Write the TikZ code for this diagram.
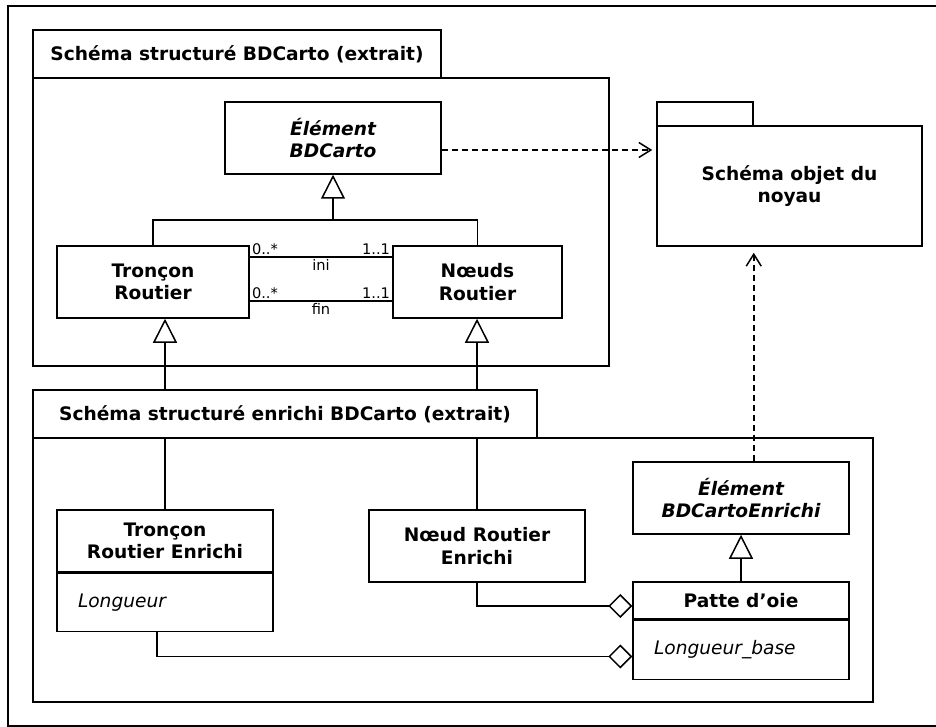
\documentclass[tikz,border=0pt]{standalone}
\usepackage{fontspec}
\setmainfont{DejaVu Sans}
\usetikzlibrary{arrows.meta, positioning}

\newcommand{\namefont}{\fontsize{18.6}{22.3}\selectfont\bfseries}
\newcommand{\attrfont}{\fontsize{18.6}{22.3}\selectfont\itshape}
\newcommand{\rolefont}{\fontsize{14.6}{17}\selectfont}

\tikzset{
    box/.style={draw, fill=white, line width=1.5pt, inner sep=0pt},
    cls/.style={box, align=center, font=\namefont},
    attr/.style={box, align=left, font=\attrfont, text width=174pt, inner xsep=21pt, inner ysep=0pt},
    pkgtab/.style={box, font=\namefont},
    gen/.style={line width=1.5pt, -{Triangle[fill=white, length=24pt, width=24pt]}},
    dep/.style={line width=1.5pt, dash pattern=on 6pt off 4pt, -{Straight Barb[length=12pt, width=15pt]}},
    agg/.style={line width=1.5pt, -{Diamond[fill=white, length=24pt, width=24pt]}},
    role/.style={font=\rolefont, inner sep=1.5pt}
}

\begin{document}
\begin{tikzpicture}[x=1pt, y=-1pt]
    \useasboundingbox (0,0) rectangle (936,727);

    % Frame
    \draw[line width=1.5pt] (8,6) rectangle (950,726);

    % Package BDCarto
    \node[box, minimum width=576pt, minimum height=288pt] (p1) at (321,222) {};
    \node[pkgtab, minimum width=408pt, minimum height=48pt] (p1tab) at (237,54) {Schéma structuré BDCarto (extrait)};

    % Classes BDCarto
    \node[cls, minimum width=216pt, minimum height=72pt] (elem) at (333,138) {\itshape Élément\\\itshape BDCarto};
    \node[cls, minimum width=192pt, minimum height=72pt] (tr) at (153,282) {Tronçon\\Routier};
    \node[cls, minimum width=169pt, minimum height=72pt] (nr) at (477.5,282) {Nœuds\\Routier};

    % Generalisation
    \coordinate (gj) at (333,220);
    \draw[line width=1.5pt] (tr.north) |- (gj) -| (nr.north);
    \draw[gen] (gj) -- (elem.south);

    % Associations ini / fin
    \draw[line width=1.5pt] ([yshift=25pt]tr.east) -- ([yshift=25pt]nr.west)
        node[role, pos=0, above right] {0..*}
        node[role, pos=1, above left] {1..1}
        node[role, midway, below] {ini};
    \draw[line width=1.5pt] ([yshift=-19pt]tr.east) -- ([yshift=-19pt]nr.west)
        node[role, pos=0, above right] {0..*}
        node[role, pos=1, above left] {1..1}
        node[role, midway, below] {fin};

    % Kernel package
    \node[box, minimum width=96pt, minimum height=24pt] (noyautab) at (705,114) {};
    \node[cls, minimum width=265pt, minimum height=120pt] (noyau) at (789.5,186) {Schéma objet du\\noyau};
    \draw[dep, shorten >=4pt] ([yshift=-12pt]elem.east) -- ([yshift=-12pt]elem.east -| noyau.west);

    % Package enriched BDCarto
    \node[draw, line width=1.5pt, minimum width=840pt, minimum height=264pt] (p2) at (453,570) {};

    % Enriched classes
    \node[cls, minimum width=216pt, minimum height=62pt] (trname) at (165,541) {Tronçon\\Routier Enrichi};
    \node[attr, minimum height=58pt, below=0pt of trname] (trattr) {Longueur};
    \node[cls, minimum width=216pt, minimum height=72pt] (nre) at (477,546) {Nœud Routier\\Enrichi};
    \node[cls, minimum width=216pt, minimum height=72pt] (ebe) at (741,498) {\itshape Élément\\\itshape BDCartoEnrichi};
    \node[cls, minimum width=216pt, minimum height=37pt] (pname) at (741,600.5) {Patte d’oie};
    \node[attr, minimum height=59pt, below=0pt of pname] (pattr) {Longueur\_base};

    % Inheritance across packages
    \draw[gen] (trname.north) -- (trname.north |- tr.south);
    \draw[gen] (nre.north) -- (nre.north |- nr.south);
    \node[pkgtab, minimum width=504pt, minimum height=48pt] (p2tab) at (285,414) {Schéma structuré enrichi BDCarto (extrait)};

    \draw[gen] (pname.north) -- (ebe.south);
    \draw[dep, shorten >=6pt] (ebe.north -| noyautab.east) -- (noyautab.east |- noyau.south);

    % Aggregations
    \draw[agg] (nre.south) |- ([yshift=-5.5pt]pname.west);
    \draw[agg] ([xshift=-8pt]trattr.south) |- ([yshift=-6.5pt]pattr.west);

\end{tikzpicture}
\end{document}
